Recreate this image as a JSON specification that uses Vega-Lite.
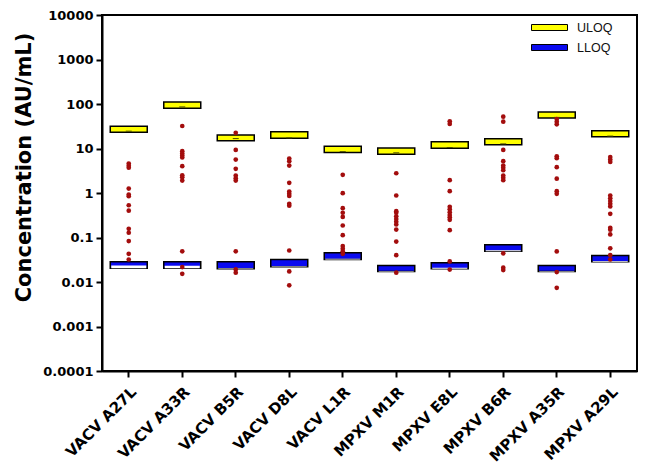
{
  "$schema": "https://vega.github.io/schema/vega-lite/v6.json",
  "width": 535,
  "height": 356,
  "autosize": {"type": "none"},
  "padding": {"left": 102, "top": 15, "right": 14, "bottom": 96},
  "datasets": {
    "levels": [
      {"antigen": "VACV A27L", "type": "ULOQ", "lo": 23.2, "hi": 31.6, "inner_lo": 23.2, "mean": 24.5},
      {"antigen": "VACV A33R", "type": "ULOQ", "lo": 80, "hi": 111, "inner_lo": 80, "mean": 86},
      {"antigen": "VACV B5R", "type": "ULOQ", "lo": 14.9, "hi": 20.2, "inner_lo": 14.9, "mean": 16.7},
      {"antigen": "VACV D8L", "type": "ULOQ", "lo": 17, "hi": 23.7, "inner_lo": 17, "mean": 17.3},
      {"antigen": "VACV L1R", "type": "ULOQ", "lo": 8.1, "hi": 11.2, "inner_lo": 8.1, "mean": 8.5},
      {"antigen": "MPXV M1R", "type": "ULOQ", "lo": 7.4, "hi": 10.3, "inner_lo": 7.4, "mean": 8.0},
      {"antigen": "MPXV E8L", "type": "ULOQ", "lo": 10.1, "hi": 14.1, "inner_lo": 10.1, "mean": 10.5},
      {"antigen": "MPXV B6R", "type": "ULOQ", "lo": 12.1, "hi": 16.5, "inner_lo": 12.1, "mean": 12.7},
      {"antigen": "MPXV A35R", "type": "ULOQ", "lo": 48.7, "hi": 66.5, "inner_lo": 48.7, "mean": 50},
      {"antigen": "MPXV A29L", "type": "ULOQ", "lo": 18.3, "hi": 24.9, "inner_lo": 18.3, "mean": 19},
      {"antigen": "VACV A27L", "type": "LLOQ", "lo": 0.0205, "hi": 0.0286, "inner_lo": 0.0236},
      {"antigen": "VACV A33R", "type": "LLOQ", "lo": 0.0205, "hi": 0.0286, "inner_lo": 0.0233},
      {"antigen": "VACV B5R", "type": "LLOQ", "lo": 0.0199, "hi": 0.0284, "inner_lo": 0.0204},
      {"antigen": "VACV D8L", "type": "LLOQ", "lo": 0.022, "hi": 0.0321, "inner_lo": 0.0227},
      {"antigen": "VACV L1R", "type": "LLOQ", "lo": 0.032, "hi": 0.0455, "inner_lo": 0.0335},
      {"antigen": "MPXV M1R", "type": "LLOQ", "lo": 0.0173, "hi": 0.0236, "inner_lo": 0.0177},
      {"antigen": "MPXV E8L", "type": "LLOQ", "lo": 0.0199, "hi": 0.0271, "inner_lo": 0.0208},
      {"antigen": "MPXV B6R", "type": "LLOQ", "lo": 0.0494, "hi": 0.0687, "inner_lo": 0.052},
      {"antigen": "MPXV A35R", "type": "LLOQ", "lo": 0.0173, "hi": 0.0236, "inner_lo": 0.0177},
      {"antigen": "MPXV A29L", "type": "LLOQ", "lo": 0.0286, "hi": 0.0395, "inner_lo": 0.0298}
    ],
    "samples": [
      {"antigen": "VACV A27L", "value": 4.6}, {"antigen": "VACV A27L", "value": 4.1}, {"antigen": "VACV A27L", "value": 3.7},
      {"antigen": "VACV A27L", "value": 1.26}, {"antigen": "VACV A27L", "value": 0.92}, {"antigen": "VACV A27L", "value": 0.85},
      {"antigen": "VACV A27L", "value": 0.53}, {"antigen": "VACV A27L", "value": 0.4}, {"antigen": "VACV A27L", "value": 0.157},
      {"antigen": "VACV A27L", "value": 0.128}, {"antigen": "VACV A27L", "value": 0.083}, {"antigen": "VACV A27L", "value": 0.043},
      {"antigen": "VACV A27L", "value": 0.032},
      {"antigen": "VACV A33R", "value": 32}, {"antigen": "VACV A33R", "value": 8.7}, {"antigen": "VACV A33R", "value": 7.7},
      {"antigen": "VACV A33R", "value": 6.95}, {"antigen": "VACV A33R", "value": 6.27}, {"antigen": "VACV A33R", "value": 4.0},
      {"antigen": "VACV A33R", "value": 2.5}, {"antigen": "VACV A33R", "value": 2.26}, {"antigen": "VACV A33R", "value": 1.9},
      {"antigen": "VACV A33R", "value": 0.049}, {"antigen": "VACV A33R", "value": 0.0216}, {"antigen": "VACV A33R", "value": 0.0153},
      {"antigen": "VACV B5R", "value": 22.5}, {"antigen": "VACV B5R", "value": 9.3}, {"antigen": "VACV B5R", "value": 5.65},
      {"antigen": "VACV B5R", "value": 3.5}, {"antigen": "VACV B5R", "value": 2.47}, {"antigen": "VACV B5R", "value": 2.15},
      {"antigen": "VACV B5R", "value": 1.9}, {"antigen": "VACV B5R", "value": 0.049}, {"antigen": "VACV B5R", "value": 0.0192},
      {"antigen": "VACV B5R", "value": 0.0162},
      {"antigen": "VACV D8L", "value": 5.95}, {"antigen": "VACV D8L", "value": 5.18}, {"antigen": "VACV D8L", "value": 4.14},
      {"antigen": "VACV D8L", "value": 1.69}, {"antigen": "VACV D8L", "value": 1.08}, {"antigen": "VACV D8L", "value": 0.96},
      {"antigen": "VACV D8L", "value": 0.86}, {"antigen": "VACV D8L", "value": 0.57}, {"antigen": "VACV D8L", "value": 0.52},
      {"antigen": "VACV D8L", "value": 0.051}, {"antigen": "VACV D8L", "value": 0.0173}, {"antigen": "VACV D8L", "value": 0.0084},
      {"antigen": "VACV L1R", "value": 2.56}, {"antigen": "VACV L1R", "value": 0.99}, {"antigen": "VACV L1R", "value": 0.456},
      {"antigen": "VACV L1R", "value": 0.36}, {"antigen": "VACV L1R", "value": 0.29}, {"antigen": "VACV L1R", "value": 0.186},
      {"antigen": "VACV L1R", "value": 0.113}, {"antigen": "VACV L1R", "value": 0.064}, {"antigen": "VACV L1R", "value": 0.056},
      {"antigen": "VACV L1R", "value": 0.049}, {"antigen": "VACV L1R", "value": 0.043},
      {"antigen": "MPXV M1R", "value": 2.78}, {"antigen": "MPXV M1R", "value": 0.88}, {"antigen": "MPXV M1R", "value": 0.39},
      {"antigen": "MPXV M1R", "value": 0.36}, {"antigen": "MPXV M1R", "value": 0.3}, {"antigen": "MPXV M1R", "value": 0.26},
      {"antigen": "MPXV M1R", "value": 0.226}, {"antigen": "MPXV M1R", "value": 0.196}, {"antigen": "MPXV M1R", "value": 0.151},
      {"antigen": "MPXV M1R", "value": 0.081}, {"antigen": "MPXV M1R", "value": 0.04}, {"antigen": "MPXV M1R", "value": 0.0162},
      {"antigen": "MPXV E8L", "value": 41}, {"antigen": "MPXV E8L", "value": 35.7}, {"antigen": "MPXV E8L", "value": 1.94},
      {"antigen": "MPXV E8L", "value": 1.1}, {"antigen": "MPXV E8L", "value": 0.49}, {"antigen": "MPXV E8L", "value": 0.43},
      {"antigen": "MPXV E8L", "value": 0.37}, {"antigen": "MPXV E8L", "value": 0.32}, {"antigen": "MPXV E8L", "value": 0.285},
      {"antigen": "MPXV E8L", "value": 0.25}, {"antigen": "MPXV E8L", "value": 0.146}, {"antigen": "MPXV E8L", "value": 0.029},
      {"antigen": "MPXV E8L", "value": 0.019},
      {"antigen": "MPXV B6R", "value": 52}, {"antigen": "MPXV B6R", "value": 40}, {"antigen": "MPXV B6R", "value": 9.3},
      {"antigen": "MPXV B6R", "value": 5.2}, {"antigen": "MPXV B6R", "value": 4.14}, {"antigen": "MPXV B6R", "value": 3.68},
      {"antigen": "MPXV B6R", "value": 3.25}, {"antigen": "MPXV B6R", "value": 2.47}, {"antigen": "MPXV B6R", "value": 2.2},
      {"antigen": "MPXV B6R", "value": 1.94}, {"antigen": "MPXV B6R", "value": 0.044}, {"antigen": "MPXV B6R", "value": 0.021},
      {"antigen": "MPXV B6R", "value": 0.0185},
      {"antigen": "MPXV A35R", "value": 46}, {"antigen": "MPXV A35R", "value": 40}, {"antigen": "MPXV A35R", "value": 35},
      {"antigen": "MPXV A35R", "value": 6.7}, {"antigen": "MPXV A35R", "value": 6.04}, {"antigen": "MPXV A35R", "value": 3.8},
      {"antigen": "MPXV A35R", "value": 2.1}, {"antigen": "MPXV A35R", "value": 1.1}, {"antigen": "MPXV A35R", "value": 0.96},
      {"antigen": "MPXV A35R", "value": 0.0486}, {"antigen": "MPXV A35R", "value": 0.0167}, {"antigen": "MPXV A35R", "value": 0.0074},
      {"antigen": "MPXV A29L", "value": 6.4}, {"antigen": "MPXV A29L", "value": 5.65}, {"antigen": "MPXV A29L", "value": 5.0},
      {"antigen": "MPXV A29L", "value": 0.88}, {"antigen": "MPXV A29L", "value": 0.76}, {"antigen": "MPXV A29L", "value": 0.66},
      {"antigen": "MPXV A29L", "value": 0.57}, {"antigen": "MPXV A29L", "value": 0.5}, {"antigen": "MPXV A29L", "value": 0.34},
      {"antigen": "MPXV A29L", "value": 0.165}, {"antigen": "MPXV A29L", "value": 0.15}, {"antigen": "MPXV A29L", "value": 0.117},
      {"antigen": "MPXV A29L", "value": 0.057}, {"antigen": "MPXV A29L", "value": 0.04}, {"antigen": "MPXV A29L", "value": 0.032}
    ]
  },
  "encoding": {
    "x": {
      "field": "antigen",
      "type": "nominal",
      "sort": ["VACV A27L", "VACV A33R", "VACV B5R", "VACV D8L", "VACV L1R", "MPXV M1R", "MPXV E8L", "MPXV B6R", "MPXV A35R", "MPXV A29L"],
      "scale": {"paddingInner": 0, "paddingOuter": 0},
      "axis": {"title": null, "labelAngle": -45, "labelAlign": "right", "labelBaseline": "top", "labelPadding": 7}
    }
  },
  "layer": [
    {
      "data": {"name": "levels"},
      "mark": {"type": "bar", "width": 37, "stroke": "black", "strokeWidth": 1.5},
      "encoding": {
        "y": {
          "field": "lo",
          "type": "quantitative",
          "scale": {"type": "log", "domain": [0.0001, 10000], "nice": false},
          "axis": {
            "title": "Concentration (AU/mL)",
            "values": [0.0001, 0.001, 0.01, 0.1, 1, 10, 100, 1000, 10000],
            "format": "~g",
            "labelPadding": 3,
            "titlePadding": 8,
            "titleY": 152
          }
        },
        "y2": {"field": "hi"},
        "color": {
          "field": "type",
          "type": "nominal",
          "scale": {"domain": ["ULOQ", "LLOQ"], "range": ["#ffff00", "#0a0af0"]},
          "legend": {
            "title": null,
            "orient": "none",
            "legendX": 441,
            "legendY": 6,
            "padding": 0,
            "symbolType": "M-3,-0.5H3V0.5H-3Z",
            "symbolSize": 144,
            "symbolStrokeColor": "black",
            "symbolStrokeWidth": 1,
            "symbolOpacity": 1,
            "labelFont": "Liberation Sans",
            "labelFontSize": 12.5,
            "labelColor": "#111",
            "labelOffset": 21,
            "rowPadding": 7
          }
        }
      }
    },
    {
      "data": {"name": "levels"},
      "transform": [{"filter": "datum.type === 'LLOQ'"}],
      "mark": {"type": "bar", "width": 35, "fill": "white", "strokeWidth": 0},
      "encoding": {
        "y": {"field": "lo", "type": "quantitative"},
        "y2": {"field": "inner_lo"}
      }
    },
    {
      "data": {"name": "levels"},
      "transform": [{"filter": "datum.type === 'ULOQ'"}],
      "mark": {"type": "tick", "size": 6, "thickness": 1, "color": "#4a4a00", "opacity": 1},
      "encoding": {
        "y": {"field": "mean", "type": "quantitative"}
      }
    },
    {
      "data": {"name": "samples"},
      "mark": {"type": "circle", "size": 22, "color": "#a30d0d", "opacity": 1},
      "encoding": {
        "y": {"field": "value", "type": "quantitative"}
      }
    }
  ],
  "config": {
    "background": "white",
    "view": {"stroke": "black", "strokeWidth": 2},
    "axis": {
      "grid": false,
      "domainColor": "black",
      "domainWidth": 2,
      "tickColor": "black",
      "tickWidth": 2,
      "tickSize": 6,
      "labelFont": "DejaVu Sans",
      "labelFontWeight": "bold",
      "labelFontSize": 13,
      "labelColor": "black",
      "titleFont": "DejaVu Sans",
      "titleFontWeight": "bold",
      "titleFontSize": 21,
      "titleColor": "black"
    },
    "axisX": {"labelFontSize": 15}
  }
}
